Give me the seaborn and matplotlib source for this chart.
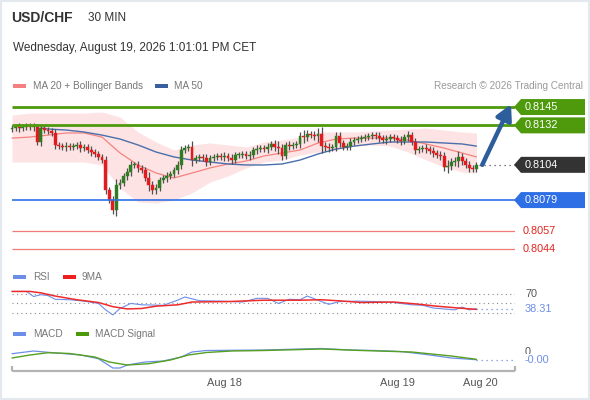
import matplotlib
matplotlib.use("Agg")
import matplotlib.pyplot as plt
import matplotlib.transforms as mtransforms
from matplotlib.patches import Polygon, Rectangle
import seaborn as sns
import numpy as np

sns.set_theme(style="white")
plt.rcParams["font.family"] = ["Liberation Sans", "DejaVu Sans"]

# ---- data (USD/CHF, 30 min candles) ----
first_open = 0.81294
closes = [0.81301, 0.81308, 0.81301, 0.81308, 0.81315, 0.81308, 0.81308, 0.81202, 0.81301, 0.81287,
          0.81280, 0.81266, 0.81181, 0.81173, 0.81166, 0.81173, 0.81166, 0.81173, 0.81181, 0.81159,
          0.81166, 0.81145, 0.81131, 0.81117, 0.81096, 0.81074, 0.80862, 0.80791, 0.80720, 0.80897,
          0.80911, 0.80961, 0.80989, 0.81039, 0.81039, 0.81018, 0.81003, 0.80947, 0.80897, 0.80862,
          0.80876, 0.80932, 0.80947, 0.80961, 0.80975, 0.81003, 0.81039, 0.81145, 0.81159, 0.81166,
          0.81074, 0.81088, 0.81096, 0.81088, 0.81060, 0.81088, 0.81096, 0.81103, 0.81096, 0.81103,
          0.81088, 0.81074, 0.81110, 0.81110, 0.81117, 0.81103, 0.81110, 0.81145, 0.81152, 0.81159,
          0.81152, 0.81166, 0.81188, 0.81166, 0.81159, 0.81103, 0.81181, 0.81173, 0.81181, 0.81188,
          0.81244, 0.81237, 0.81259, 0.81251, 0.81244, 0.81259, 0.81173, 0.81166, 0.81159, 0.81166,
          0.81244, 0.81195, 0.81166, 0.81173, 0.81202, 0.81216, 0.81223, 0.81230, 0.81237, 0.81244,
          0.81251, 0.81244, 0.81230, 0.81216, 0.81223, 0.81237, 0.81230, 0.81216, 0.81209, 0.81237,
          0.81251, 0.81202, 0.81145, 0.81152, 0.81159, 0.81152, 0.81138, 0.81124, 0.81110, 0.81103,
          0.81025, 0.81032, 0.81060, 0.81067, 0.81096, 0.81067, 0.81039, 0.81018, 0.81010, 0.81040]
wick_pips = [2, 2, 3, 2, 2, 2, 3, 2, 3, 2, 2, 2, 3, 2, 2, 3, 2, 2, 2, 3,
             2, 2, 3, 2, 2, 2, 3, 2, 3, 4, 3, 2, 3, 3, 2, 3, 2, 2, 4, 3,
             3, 2, 2, 3, 2, 2, 3, 3, 2, 2, 4, 2, 2, 2, 3, 2, 2, 2, 2, 3,
             2, 3, 2, 2, 2, 2, 3, 2, 3, 2, 2, 3, 2, 3, 4, 3, 2, 3, 2, 2,
             3, 4, 3, 2, 3, 4, 5, 3, 3, 2, 3, 3, 2, 2, 3, 2, 2, 2, 2, 2,
             2, 2, 3, 2, 3, 2, 2, 2, 3, 2, 3, 2, 3, 2, 2, 3, 2, 3, 2, 3,
             3, 4, 3, 3, 4, 3, 2, 3, 2, 2]

band_idx = [0, 5, 10, 15, 20, 25, 30, 35, 40, 45, 50, 55, 60, 65, 70, 75, 80, 85, 90, 95,
            100, 105, 110, 115, 120, 125, 129]
bb_upper = [0.81393, 0.81407, 0.81407, 0.81407, 0.81407, 0.81415, 0.81379, 0.81273, 0.81202, 0.81145,
            0.81181, 0.81195, 0.81181, 0.81166, 0.81202, 0.81216, 0.81237, 0.81273, 0.81273, 0.81273,
            0.81280, 0.81287, 0.81294, 0.81301, 0.81287, 0.81273, 0.81266]
bb_lower = [0.81060, 0.81060, 0.81060, 0.81060, 0.81060, 0.81039, 0.80876, 0.80776, 0.80769, 0.80791,
            0.80840, 0.80918, 0.80961, 0.81018, 0.81060, 0.81074, 0.81110, 0.81131, 0.81145, 0.81173,
            0.81181, 0.81173, 0.81131, 0.81074, 0.81025, 0.80989, 0.80982]
ma20 = [0.81230, 0.81237, 0.81251, 0.81266, 0.81266, 0.81237, 0.81124, 0.81039, 0.80982, 0.80947,
        0.80982, 0.81018, 0.81046, 0.81067, 0.81103, 0.81124, 0.81145, 0.81195, 0.81223, 0.81230,
        0.81230, 0.81230, 0.81216, 0.81188, 0.81159, 0.81124, 0.81096]
ma50_idx = [8, 10, 15, 20, 25, 30, 35, 40, 45, 50, 55, 60, 65, 70, 75, 80, 85, 90, 95, 100,
            105, 110, 115, 120, 125, 129]
ma50 = [0.81301, 0.81294, 0.81287, 0.81273, 0.81251, 0.81223, 0.81181, 0.81131, 0.81096, 0.81074,
        0.81060, 0.81046, 0.81039, 0.81039, 0.81046, 0.81074, 0.81117, 0.81152, 0.81173, 0.81188,
        0.81202, 0.81202, 0.81202, 0.81195, 0.81188, 0.81173]

resistances = [0.8145, 0.8132]
pivot = 0.8079
supports = [0.8057, 0.8044]
last_price = 0.8104

rsi_idx = [0, 4, 6, 8, 10, 12, 16, 20, 24, 26, 28, 30, 33, 36, 42, 46, 48, 52, 58, 64,
           68, 71, 74, 77, 80, 82, 85, 88, 91, 96, 101, 106, 111, 114, 117, 120, 123, 125, 127, 129]
rsi_val = [76, 76, 65, 69, 67, 59, 58, 55, 50, 36, 25, 39, 50, 47, 46, 57, 64, 56, 55, 53,
           61, 61, 50, 59, 58, 66, 57, 48, 54, 55, 54, 52, 47, 46, 40, 38, 36, 42, 36, 38.31]
rsi_ma_idx = [0, 5, 8, 12, 18, 24, 28, 32, 36, 40, 46, 50, 60, 70, 80, 86, 92, 97, 106, 112, 118, 124, 129]
rsi_ma_val = [76, 76, 73, 66, 58, 52, 43, 38, 39, 44, 47, 53, 54, 57, 57, 58, 55, 52, 53, 49, 44, 40, 37]
rsi_levels = [70, 50, 30]

macd_idx = [0, 6, 10, 19, 24, 28, 30, 32, 37, 42, 47, 50, 54, 70, 80, 86, 94, 101, 108, 115, 122, 129]
macd_val = [-0.000085, 0.00005, -0.000015, -0.00015, -0.000335, -0.0008, -0.0008, -0.00065, -0.0005,
            -0.00045, -0.00025, 0.0, 0.000075, 0.0001, 0.00015, 0.000175, 0.0001, 0.000075, 0.000025,
            -0.000125, -0.0003, -0.000385]
sig_idx = [0, 5, 10, 16, 23, 27, 32, 38, 44, 49, 54, 61, 70, 86, 97, 111, 122, 129]
sig_val = [-0.0003, -0.00015, -0.000035, -0.000075, -0.00025, -0.0005, -0.00065, -0.000585, -0.0004,
           -0.00015, -0.000025, 0.00005, 0.000075, 0.00015, 0.000075, 0.0, -0.0002, -0.000365]

tick_pos = [59, 107, 130]
tick_labels = ["Aug 18", "Aug 19", "Aug 20"]

# ---- colours ----
GREEN = "#4e9a0c"
BLUE = "#2f6fe6"
RED = "#e5231f"
C_UP = "#2f7d22"
C_DN = "#e31b1e"
C_RSI = "#6d8ee8"
GREY_TXT = "#555555"

W, H = 590, 400
fig = plt.figure(figsize=(W / 100, H / 100), dpi=100)


def frame(l, t, r, b):
    return [l / W, 1 - b / H, (r - l) / W, (b - t) / H]


def fx(px):
    return px / W


def fy(py):
    return 1 - py / H


ax = fig.add_axes(frame(10, 100, 515, 258))
ax_rsi = fig.add_axes(frame(10, 285, 515, 320))
ax_macd = fig.add_axes(frame(10, 340, 515, 371))
x_max = 139.7
for a in (ax, ax_rsi, ax_macd):
    a.set_xlim(-0.56, x_max)
    a.axis("off")
ax.set_ylim(0.80379, 0.81500)
ax_rsi.set_ylim(14, 90)
ax_macd.set_ylim(-0.00095, 0.0006)

# ---- price panel ----
ax.fill_between(band_idx, bb_lower, bb_upper, color="#fde3e3", lw=0, zorder=1)
sns.lineplot(x=band_idx, y=ma20, ax=ax, color="#f4837f", linewidth=0.9, zorder=2)
sns.lineplot(x=ma50_idx, y=ma50, ax=ax, color="#4a6fac", linewidth=1.0, zorder=2)

c = np.array(closes)
o = np.array([first_open] + closes[:-1])
lo_body = np.minimum(o, c)
hi_body = np.maximum(o, c)
wk = np.array(wick_pips) * 0.0001
xs = np.arange(len(c))
cols = [C_UP if cc >= oo else C_DN for oo, cc in zip(o, c)]
ax.vlines(xs, lo_body - wk, hi_body + wk, color="#505050", lw=0.9, zorder=3)
ax.bar(xs, np.maximum(hi_body - lo_body, 0.00004), bottom=lo_body, width=0.8,
       color=cols, edgecolor=cols, linewidth=0.3, zorder=3.5)

for lv in resistances:
    ax.hlines(lv, 0, x_max, color=GREEN, lw=2.0, zorder=4)
ax.hlines(pivot, 0, x_max, color=BLUE, lw=1.2, zorder=4)
for lv in supports:
    ax.hlines(lv, 0, x_max, color="#f27a78", lw=0.9, zorder=4)
ax.hlines(last_price, len(c) - 0.3, x_max, color="#555555", lw=0.9,
          linestyles=(0, (1, 3)), zorder=4)

ax.annotate("", xy=(x_max - 1.1, resistances[0] + 0.0002), xytext=(len(c) + 0.6, last_price),
            arrowprops=dict(arrowstyle="-|>,head_length=0.75,head_width=0.4",
                            color="#2e5d9c", lw=3.2, shrinkA=0, shrinkB=0),
            annotation_clip=False, zorder=6)

# right-hand price tags
blend = mtransforms.blended_transform_factory(fig.transFigure, ax.transData)
half = 8 / 158 * (ax.get_ylim()[1] - ax.get_ylim()[0])


def tag(price, face):
    pts = [(fx(514), price), (fx(521), price + half), (fx(585), price + half),
           (fx(585), price - half), (fx(521), price - half)]
    ax.add_patch(Polygon(pts, closed=True, transform=blend, facecolor=face,
                         edgecolor="none", clip_on=False, zorder=5))
    ax.text(fx(525), price, f"{price:.4f}", transform=blend, color="white",
            fontsize=7.8, va="center", ha="left", zorder=6)


tag(resistances[0], GREEN)
tag(resistances[1], GREEN)
tag(last_price, "#333333")
tag(pivot, BLUE)
for lv in supports:
    ax.text(fx(523), lv, f"{lv:.4f}", transform=blend, color=RED, fontsize=7.8,
            va="center", ha="left")

# ---- RSI panel ----
ax_rsi.hlines(rsi_levels, 0, x_max, color="#8a8a8a", lw=0.8, linestyles=(0, (1, 3)))
sns.lineplot(x=rsi_idx, y=rsi_val, ax=ax_rsi, color=C_RSI, linewidth=0.8)
sns.lineplot(x=rsi_ma_idx, y=rsi_ma_val, ax=ax_rsi, color="#ee2a2a", linewidth=1.1)
ax_rsi.hlines(rsi_val[-1], rsi_idx[-1], x_max, color=C_RSI, lw=0.9, linestyles=(0, (1, 3)))
b_rsi = mtransforms.blended_transform_factory(fig.transFigure, ax_rsi.transData)
ax_rsi.text(fx(525), rsi_levels[0], f"{rsi_levels[0]}", transform=b_rsi, color=GREY_TXT,
            fontsize=7.8, va="center")
ax_rsi.text(fx(525), rsi_val[-1], f"{rsi_val[-1]:.2f}", transform=b_rsi, color=C_RSI,
            fontsize=7.8, va="center")

# ---- MACD panel ----
sns.lineplot(x=macd_idx, y=macd_val, ax=ax_macd, color=C_RSI, linewidth=0.9)
sns.lineplot(x=sig_idx, y=sig_val, ax=ax_macd, color="#55a020", linewidth=1.0)
ax_macd.hlines(macd_val[-1], macd_idx[-1], x_max, color=C_RSI, lw=0.9, linestyles=(0, (1, 3)))
b_macd = mtransforms.blended_transform_factory(fig.transFigure, ax_macd.transData)
ax_macd.text(fx(525), 0, "0", transform=b_macd, color=GREY_TXT, fontsize=7.8, va="center")
ax_macd.text(fx(525), macd_val[-1], f"{macd_val[-1]:.2f}", transform=b_macd, color=C_RSI,
             fontsize=7.8, va="center",
             bbox=dict(facecolor="white", edgecolor="none", pad=0.6))

# time axis
y0 = ax_macd.get_ylim()[0]
tick_h = 5 / 31 * (ax_macd.get_ylim()[1] - y0)
ax_macd.plot([0, x_max], [y0, y0], color="#b3b3b3", lw=1.6, clip_on=False,
             solid_capstyle="butt")
ax_macd.vlines([0, x_max], y0, y0 + tick_h, color="#b3b3b3", lw=1.6, clip_on=False)
b_time = mtransforms.blended_transform_factory(ax_macd.transData, fig.transFigure)
for pos, lab in zip(tick_pos, tick_labels):
    ax_macd.text(pos, fy(383), lab, transform=b_time, ha="center", va="center",
                 fontsize=7.9, color=GREY_TXT)

# ---- header and legends ----
fig.text(fx(11), fy(18), "USD/CHF", fontsize=10, weight="bold", color="#333333", va="center")
fig.text(fx(88), fy(18), "30 MIN", fontsize=8.5, color="#333333", va="center")
fig.text(fx(13), fy(48), "Wednesday, August 19, 2026 1:01:01 PM CET", fontsize=8.5,
         color="#333333", va="center")
fig.text(fx(583), fy(86), "Research \u00a9 2026 Trading Central", fontsize=7.2,
         color="#9a9a9a", va="center", ha="right")


def legend_item(px, py, color, label, tx):
    fig.add_artist(Rectangle((fx(px), fy(py + 2)), 13 / W, 4 / H, transform=fig.transFigure,
                             facecolor=color, edgecolor="none"))
    fig.text(fx(tx), fy(py), label, fontsize=7.2, color="#777777", va="center")


legend_item(13, 86, "#f47f7f", "MA 20 + Bollinger Bands", 33)
legend_item(155, 86, "#3b5f9e", "MA 50", 174)
legend_item(13, 277, C_RSI, "RSI", 33)
legend_item(63, 277, "#ee1f1f", "9MA", 82)
legend_item(13, 334, C_RSI, "MACD", 33)
legend_item(76, 334, "#4c9a0a", "MACD Signal", 95)

fig.add_artist(Rectangle((0, 0), 1, 1, transform=fig.transFigure, facecolor="none",
                         edgecolor="#e3e9ee", linewidth=3))

fig.savefig("out.png", dpi=100, facecolor="white")
